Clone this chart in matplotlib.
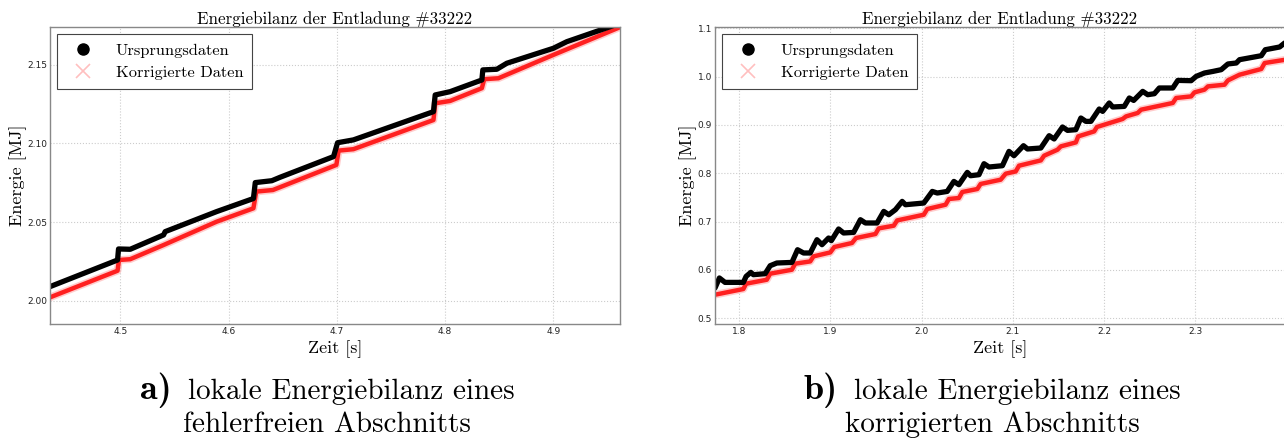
import matplotlib.pyplot as plt
from matplotlib.lines import Line2D

plt.rcParams['font.family'] = 'cmr10'
plt.rcParams['axes.formatter.use_mathtext'] = True

# a) fehlerfreier Abschnitt: Zeit [s], Energie [MJ]
t_a_orig = [4.4351, 4.4975, 4.4984, 4.5092, 4.540, 4.5415, 4.589, 4.623, 4.6247,
            4.640, 4.6477, 4.697, 4.7007, 4.7154, 4.7893, 4.7909, 4.8047, 4.834,
            4.8349, 4.8478, 4.857, 4.900, 4.9125, 4.9525, 4.9616]
e_a_orig = [2.0091, 2.0260, 2.0330, 2.0328, 2.0419, 2.0440, 2.0567, 2.0650, 2.0751,
            2.0763, 2.0785, 2.0916, 2.1004, 2.1022, 2.1201, 2.1307, 2.1328, 2.1402,
            2.1466, 2.1470, 2.1508, 2.1603, 2.1645, 2.1740, 2.1762]
t_a_corr = [4.4351, 4.4975, 4.4988, 4.5092, 4.540, 4.589, 4.623, 4.6256, 4.641,
            4.6996, 4.7017, 4.7154, 4.7893, 4.7909, 4.8047, 4.834, 4.8362, 4.8493,
            4.900, 4.9616]
e_a_corr = [2.0023, 2.0192, 2.0260, 2.0265, 2.0355, 2.0503, 2.0588, 2.0694, 2.0704,
            2.0863, 2.0954, 2.0963, 2.1148, 2.1254, 2.1269, 2.1350, 2.1407, 2.1413,
            2.1561, 2.1737]

# b) korrigierter Abschnitt
t_b_orig = [1.7736, 1.7784, 1.7846, 1.8047, 1.8077, 1.8129, 1.8157, 1.8286, 1.8341,
            1.8414, 1.8579, 1.8641, 1.8707, 1.8780, 1.8854, 1.8909, 1.8981, 1.9011,
            1.9091, 1.9146, 1.9256, 1.9330, 1.9385, 1.9513, 1.9586, 1.9641, 1.9714,
            1.9788, 1.9824, 2.0025, 2.0118, 2.0173, 2.0282, 2.0355, 2.0410, 2.0502,
            2.0538, 2.0630, 2.0685, 2.0740, 2.0887, 2.0959, 2.1014, 2.1118, 2.1162,
            2.1308, 2.1399, 2.1454, 2.1546, 2.1601, 2.1692, 2.1747, 2.1802, 2.1857,
            2.1948, 2.1986, 2.2058, 2.2096, 2.2223, 2.2278, 2.2326, 2.2425, 2.2480,
            2.2553, 2.2607, 2.2755, 2.2810, 2.2956, 2.3011, 2.3102, 2.3195, 2.3286,
            2.3359, 2.3451, 2.3487, 2.3725, 2.3769, 2.3926, 2.3981]
e_b_orig = [0.5627, 0.5834, 0.5743, 0.5743, 0.5867, 0.5950, 0.5902, 0.5923, 0.6088,
            0.6144, 0.6156, 0.6419, 0.6351, 0.6351, 0.6626, 0.6523, 0.6661, 0.6605,
            0.6848, 0.6765, 0.6777, 0.7040, 0.6972, 0.6972, 0.7212, 0.7143, 0.7247,
            0.7419, 0.7350, 0.7385, 0.7625, 0.7592, 0.7625, 0.7832, 0.7764, 0.8019,
            0.7950, 0.7971, 0.8199, 0.8130, 0.8157, 0.8453, 0.8364, 0.8571, 0.8503,
            0.8523, 0.8778, 0.8710, 0.8958, 0.8888, 0.8902, 0.9144, 0.9074, 0.9074,
            0.9330, 0.9281, 0.9455, 0.9372, 0.9384, 0.9558, 0.9508, 0.9695, 0.9626,
            0.9647, 0.9765, 0.9765, 0.9922, 0.9916, 1.0005, 1.0075, 1.0108, 1.0144,
            1.0262, 1.0282, 1.0351, 1.0433, 1.0557, 1.0613, 1.0696]
t_b_corr = [1.7736, 1.8047, 1.8077, 1.8304, 1.8341, 1.8579, 1.8615, 1.8780, 1.8816,
            1.9000, 1.9044, 1.9238, 1.9282, 1.9495, 1.9531, 1.9696, 1.9733, 2.0025,
            2.0063, 2.0264, 2.0300, 2.0410, 2.0447, 2.0612, 2.0648, 2.0868, 2.0923,
            2.1033, 2.1069, 2.1308, 2.1344, 2.1491, 2.1527, 2.1692, 2.1718, 2.1893,
            2.1923, 2.2205, 2.2242, 2.2370, 2.2407, 2.2755, 2.2791, 2.2956, 2.2992,
            2.3102, 2.3140, 2.3322, 2.3359, 2.3487, 2.3725, 2.3762, 2.3989]
e_b_corr = [0.5488, 0.5606, 0.5716, 0.5798, 0.5923, 0.6005, 0.6130, 0.6177, 0.6281,
            0.6363, 0.6475, 0.6558, 0.6661, 0.6744, 0.6860, 0.6916, 0.7025, 0.7143,
            0.7261, 0.7350, 0.7468, 0.7489, 0.7613, 0.7675, 0.7779, 0.7868, 0.7992,
            0.8039, 0.8157, 0.8267, 0.8364, 0.8488, 0.8557, 0.8639, 0.8764, 0.8867,
            0.8958, 0.9124, 0.9177, 0.9248, 0.9316, 0.9455, 0.9558, 0.9591, 0.9674,
            0.9730, 0.9798, 0.9833, 0.9922, 1.0040, 1.0158, 1.0282, 1.0350]

xticks_a = [4.5, 4.6, 4.7, 4.8, 4.9]
yticks_a = [2.00, 2.05, 2.10, 2.15]
xticks_b = [1.8, 1.9, 2.0, 2.1, 2.2, 2.3]
yticks_b = [0.5, 0.6, 0.7, 0.8, 0.9, 1.0, 1.1]

title = "Energiebilanz der Entladung #33222"
labels = ["Ursprungsdaten", "Korrigierte Daten"]
caption_tags = ["a)", "b)"]
caption_line1 = "lokale Energiebilanz eines"
caption_line2 = ["fehlerfreien Abschnitts", "korrigierten Abschnitts"]

W, H = 1284, 438
fig = plt.figure(figsize=(W / 100, H / 100), dpi=100)
ax1 = fig.add_axes([50 / W, 1 - 324 / H, 570 / W, 297.3 / H])
ax2 = fig.add_axes([715 / W, 1 - 324 / H, 570 / W, 297.3 / H])

panels = [
    (ax1, t_a_orig, e_a_orig, t_a_corr, e_a_corr, xticks_a, yticks_a,
     (4.4351, 4.9616), (1.9854, 2.174), "%.1f", "%.2f"),
    (ax2, t_b_orig, e_b_orig, t_b_corr, e_b_corr, xticks_b, yticks_b,
     (1.7736, 2.3985), (0.4882, 1.1033), "%.1f", "%.1f"),
]

handles = [
    Line2D([], [], ls='', marker='o', ms=8, color='black'),
    Line2D([], [], ls='', marker='x', ms=10, mew=1.2, color='red', alpha=0.25),
]

for ax, t1, e1, t2, e2, xt, yt, xl, yl, xf, yf in panels:
    ax.plot(t2, e2, color='#ff9a9a', lw=5.5, alpha=0.5, solid_capstyle='round')
    ax.plot(t2, e2, color='#ff2020', lw=3.2, solid_capstyle='round')
    ax.plot(t1, e1, color='black', lw=3.8, solid_capstyle='round',
            solid_joinstyle='round')
    ax.set_xlim(*xl)
    ax.set_ylim(*yl)
    ax.set_xticks(xt)
    ax.set_yticks(yt)
    ax.set_xticklabels([xf % v for v in xt])
    ax.set_yticklabels([yf % v for v in yt])
    ax.tick_params(length=0, labelsize=6.5, pad=2, labelcolor='#222222',
                   labelfontfamily='DejaVu Sans')
    ax.grid(True, color='#cccccc', ls=':', lw=0.8)
    ax.set_axisbelow(True)
    for s in ax.spines.values():
        s.set_color('#888888')
        s.set_linewidth(1.0)
    ax.set_title(title, fontsize=12.2, pad=2)
    ax.set_xlabel("Zeit [s]", fontsize=13, labelpad=3)
    ax.set_ylabel("Energie [MJ]", fontsize=13, labelpad=0.5)
    leg = ax.legend(handles, labels, loc='upper left', fontsize=11.8,
                    fancybox=False, edgecolor='#444444', framealpha=1,
                    numpoints=1, borderaxespad=0.45, handletextpad=1.0,
                    borderpad=0.55, labelspacing=0.5)
    leg.get_frame().set_linewidth(0.8)

# captions below the panels
renderer = fig.canvas.get_renderer()
for cx, tag, line2 in zip([327, 992], caption_tags, caption_line2):
    t_tag = fig.text(0, 1 - 399 / H, tag, family='cmb10', fontsize=26,
                     va='baseline', ha='left')
    t_txt = fig.text(0, 1 - 399 / H, caption_line1, fontsize=21,
                     va='baseline', ha='left')
    w_tag = t_tag.get_window_extent(renderer).width
    w_txt = t_txt.get_window_extent(renderer).width
    gap = 16
    x0 = cx - (w_tag + gap + w_txt) / 2
    t_tag.set_x(x0 / W)
    t_txt.set_x((x0 + w_tag + gap) / W)
    fig.text(cx / W, 1 - 432 / H, line2, fontsize=21, va='baseline', ha='center')

fig.savefig("out.png", dpi=100)
